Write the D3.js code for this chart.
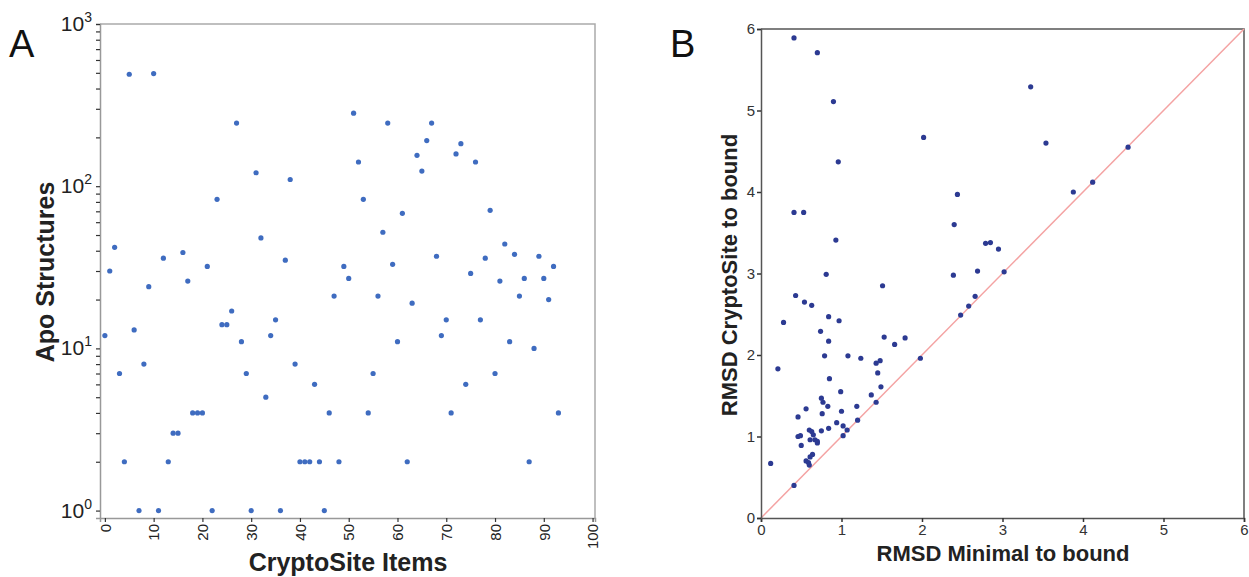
<!DOCTYPE html>
<html>
<head>
<meta charset="utf-8">
<script src="https://cdn.jsdelivr.net/npm/d3@7"></script>
<style>
  body { margin: 0; background: #fff; }
  svg { font-family: "Liberation Sans", Arial, sans-serif; }
</style>
</head>
<body>
<svg id="chart"></svg>
<script>
// Panel A: apo structures per CryptoSite item (index = item number)
const apoCounts = [12, 30, 42, 7, 2, 490, 13, 1, 8, 24, 495, 1, 36, 2, 3, 3, 39, 26, 4, 4,
  4, 32, 1, 83, 14, 14, 17, 245, 11, 7, 1, 121, 48, 5, 12, 15, 1, 35, 110, 8,
  2, 2, 2, 6, 2, 1, 4, 21, 2, 32, 27, 282, 141, 83, 4, 7, 21, 52, 245, 33,
  11, 68, 2, 19, 155, 124, 191, 245, 37, 12, 15, 4, 158, 183, 6, 29, 141, 15, 36, 71,
  7, 26, 44, 11, 38, 21, 27, 2, 10, 37, 27, 20, 32, 4];
const aXTicks = [0, 10, 20, 30, 40, 50, 60, 70, 80, 90, 100];
const aYTicks = [1, 10, 100, 1000];

// Panel B: RMSD minimal-to-bound vs RMSD CryptoSite-to-bound
const rmsdMinimal = [0.41, 0.70, 0.90, 2.02, 0.96, 2.44, 0.41, 0.53, 2.40, 0.93,
  2.79, 2.85, 2.95, 0.81, 2.39, 2.69, 3.35, 3.54, 4.56, 4.12,
  3.88, 3.02, 1.51, 0.43, 0.54, 0.63, 2.66, 2.58, 2.48, 0.84,
  0.28, 0.97, 0.74, 0.84, 1.53, 1.79, 1.66, 0.79, 1.08, 1.24,
  1.98, 0.21, 1.43, 1.48, 1.45, 0.85, 1.49, 0.99, 1.37, 0.75,
  0.77, 1.43, 0.83, 1.19, 0.56, 1.00, 0.76, 0.46, 1.20, 0.94,
  1.02, 0.84, 1.07, 0.60, 0.63, 0.75, 0.65, 0.46, 0.49, 1.02,
  0.61, 0.67, 0.70, 0.70, 0.50, 0.64, 0.61, 0.56, 0.59, 0.60,
  0.12, 0.41];
const rmsdCryptoSite = [5.89, 5.71, 5.11, 4.67, 4.37, 3.97, 3.75, 3.75, 3.60, 3.41,
  3.37, 3.38, 3.30, 2.99, 2.98, 3.03, 5.29, 4.60, 4.55, 4.12,
  4.00, 3.02, 2.85, 2.73, 2.65, 2.61, 2.72, 2.60, 2.49, 2.47,
  2.40, 2.42, 2.29, 2.17, 2.22, 2.21, 2.13, 1.99, 1.99, 1.96,
  1.96, 1.83, 1.90, 1.93, 1.78, 1.71, 1.61, 1.55, 1.51, 1.47,
  1.42, 1.42, 1.37, 1.37, 1.34, 1.31, 1.28, 1.24, 1.20, 1.17,
  1.13, 1.10, 1.08, 1.08, 1.06, 1.07, 1.02, 1.00, 1.01, 1.01,
  0.96, 0.96, 0.94, 0.92, 0.89, 0.78, 0.75, 0.70, 0.68, 0.65,
  0.67, 0.40];
const bTicks = [0, 1, 2, 3, 4, 5, 6];

const width = 1249;
const height = 577;

const svg = d3.select("#chart")
    .attr("width", width)
    .attr("height", height);

// ---------- Panel A ----------
const aX = d3.scaleLinear().domain([-1, 100.5]).range([100, 595]);
const aY = d3.scaleLog().domain([0.9, 1000]).range([518, 24]);

const gA = svg.append("g");

// top and right frame
gA.append("path")
    .attr("d", `M${aX.range()[0]},${aY(1000)}H${aX.range()[1]}V${aY.range()[0]}`)
    .attr("fill", "none")
    .attr("stroke", "#aaa")
    .attr("stroke-width", 1.5);

// minor ticks 2..9 of each decade plus majors
const aMinor = [];
for (let e = 0; e < 3; e++) {
    for (let m = 1; m < 10; m++) aMinor.push(m * Math.pow(10, e));
}
aMinor.push(1000);

const aYAxis = gA.append("g")
    .attr("transform", `translate(${aX.range()[0]},0)`)
    .call(d3.axisLeft(aY).tickValues(aMinor).tickSize(4).tickFormat(""));
aYAxis.select(".domain").attr("stroke", "#999").attr("stroke-width", 1.5);
aYAxis.selectAll(".tick line").attr("stroke", "#333").attr("stroke-width", 1.2);

// y tick labels as 10^n
gA.selectAll("text.ylab")
    .data(aYTicks)
    .join("text")
    .attr("class", "ylab")
    .attr("x", 92)
    .attr("y", d => aY(d) + 7)
    .attr("text-anchor", "end")
    .attr("fill", "#222")
    .style("font-size", "21px")
    .each(function(d) {
        const t = d3.select(this);
        t.append("tspan").text("10");
        t.append("tspan")
            .attr("dy", -9)
            .style("font-size", "14px")
            .text(Math.round(Math.log10(d)));
    });

const aXAxis = gA.append("g")
    .attr("transform", `translate(0,${aY.range()[0]})`)
    .call(d3.axisBottom(aX).tickValues(aXTicks).tickSize(4));
aXAxis.select(".domain").attr("stroke", "#999").attr("stroke-width", 1.5);
aXAxis.selectAll(".tick line").attr("stroke", "#333").attr("stroke-width", 1.2);
aXAxis.selectAll(".tick text")
    .attr("transform", "rotate(-90)")
    .attr("x", -6)
    .attr("y", 0)
    .attr("dy", "0.35em")
    .attr("text-anchor", "end")
    .attr("fill", "#222")
    .style("font-size", "15px");

gA.selectAll("circle.apo")
    .data(apoCounts)
    .join("circle")
    .attr("class", "apo")
    .attr("cx", (d, i) => aX(i))
    .attr("cy", d => aY(d))
    .attr("r", 2.6)
    .attr("fill", "#3f6cc0");

gA.append("text")
    .attr("transform", `translate(54,272) rotate(-90)`)
    .attr("text-anchor", "middle")
    .attr("fill", "#222")
    .style("font-size", "25px")
    .style("font-weight", "bold")
    .text("Apo Structures");

gA.append("text")
    .attr("x", 348)
    .attr("y", 571)
    .attr("text-anchor", "middle")
    .attr("fill", "#222")
    .style("font-size", "25px")
    .style("font-weight", "bold")
    .text("CryptoSite Items");

svg.append("text")
    .attr("x", 9)
    .attr("y", 57)
    .attr("fill", "#111")
    .style("font-size", "38px")
    .text("A");

// ---------- Panel B ----------
const bX = d3.scaleLinear().domain([0, 6]).range([761, 1244]);
const bY = d3.scaleLinear().domain([0, 6]).range([518, 29]);

const gB = svg.append("g");

gB.append("path")
    .attr("d", `M${bX(0)},${bY(6)}H${bX(6)}V${bY(0)}`)
    .attr("fill", "none")
    .attr("stroke", "#555")
    .attr("stroke-width", 1.5);

gB.append("line")
    .attr("x1", bX(0)).attr("y1", bY(0))
    .attr("x2", bX(6)).attr("y2", bY(6))
    .attr("stroke", "#f4a3a3")
    .attr("stroke-width", 1.5);

const bXAxis = gB.append("g")
    .attr("transform", `translate(0,${bY(0)})`)
    .call(d3.axisBottom(bX).tickValues(bTicks).tickFormat(d3.format("d")).tickSize(4).tickPadding(2));
const bYAxis = gB.append("g")
    .attr("transform", `translate(${bX(0)},0)`)
    .call(d3.axisLeft(bY).tickValues(bTicks).tickFormat(d3.format("d")).tickSize(4).tickPadding(2));
[bXAxis, bYAxis].forEach(ax => {
    ax.select(".domain").attr("stroke", "#555").attr("stroke-width", 1.5);
    ax.selectAll(".tick line").attr("stroke", "#333").attr("stroke-width", 1.5);
    ax.selectAll(".tick text").attr("fill", "#333").style("font-size", "15px");
});

gB.selectAll("circle.rmsd")
    .data(rmsdMinimal)
    .join("circle")
    .attr("class", "rmsd")
    .attr("cx", d => bX(d))
    .attr("cy", (d, i) => bY(rmsdCryptoSite[i]))
    .attr("r", 2.6)
    .attr("fill", "#2c3a92");

gB.append("text")
    .attr("x", 1003)
    .attr("y", 561)
    .attr("text-anchor", "middle")
    .attr("fill", "#222")
    .style("font-size", "22px")
    .style("font-weight", "bold")
    .text("RMSD Minimal to bound");

gB.append("text")
    .attr("transform", `translate(737,275) rotate(-90)`)
    .attr("text-anchor", "middle")
    .attr("fill", "#222")
    .style("font-size", "22px")
    .style("font-weight", "bold")
    .text("RMSD CryptoSite to bound");

svg.append("text")
    .attr("x", 670)
    .attr("y", 57)
    .attr("fill", "#111")
    .style("font-size", "38px")
    .text("B");
</script>
</body>
</html>
